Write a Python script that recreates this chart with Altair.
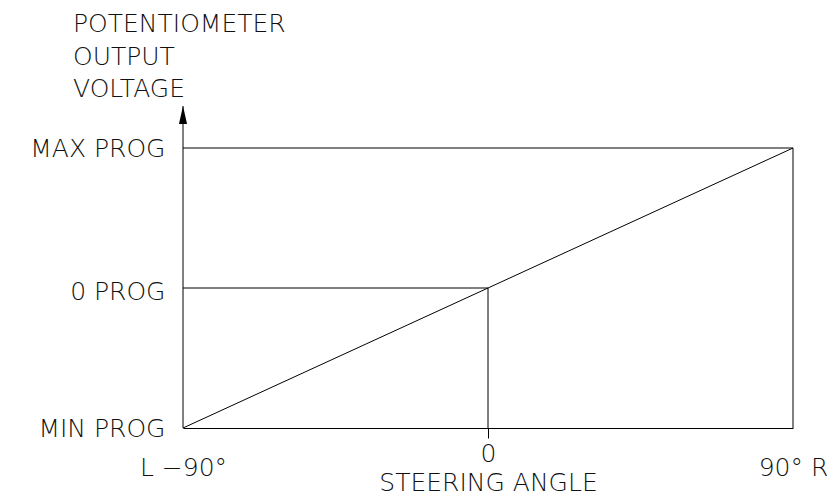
import altair as alt
import pandas as pd

# ---- data ----
angles = [-90, 0, 90]
angle_labels = ["L \u221290\u00b0", "0", "90\u00b0 R"]
levels = [0.0, 0.5, 1.0]
level_labels = ["MIN PROG", "0 PROG", "MAX PROG"]
curve_angle = [-90, 0, 90]
curve_output = [0.0, 0.5, 1.0]
axis_top = 1.15
y_title = ["POTENTIOMETER", "OUTPUT", "VOLTAGE"]
x_title = "STEERING ANGLE"

# guide segments: (x, x2, y, y2)
seg_x = [-90, 90, -90, 0, -90]
seg_x2 = [90, 90, 0, 0, -90]
seg_y = [1.0, 0.0, 0.5, 0.0, 0.0]
seg_y2 = [1.0, 1.0, 0.5, 0.5, axis_top]

FONT = "DejaVu Sans"
FW = 200
FS = 25
INK = "#111111"

segs = pd.DataFrame({"x": seg_x, "x2": seg_x2, "y": seg_y, "y2": seg_y2})
curve = pd.DataFrame({"angle": curve_angle, "out": curve_output})
arrow = pd.DataFrame({"x": [angles[0]], "y": [axis_top]})


def label_expr(vals, labs):
    expr = "''"
    for v, l in zip(vals, labs):
        expr = f"datum.value == {v} ? '{l}' : ({expr})"
    return expr


xscale = alt.Scale(domain=[angles[0], angles[-1]], nice=False, zero=False)
yscale = alt.Scale(domain=[levels[0], levels[-1]], nice=False, zero=False)

xaxis = alt.Axis(
    values=angles,
    labelExpr=label_expr(angles, angle_labels),
    grid=False,
    domain=True,
    domainColor="black",
    domainWidth=1,
    ticks=True,
    tickSize=10,
    tickWidth=1,
    tickColor={"condition": {"test": "datum.value == 0", "value": "black"}, "value": "transparent"},
    labelFlush=False,
    labelOverlap=False,
    labelBound=False,
    labelAngle=0,
    labelPadding={"condition": {"test": "datum.value == 0", "value": 3}, "value": 17},
    labelFont=FONT,
    labelFontWeight=FW,
    labelFontSize=FS,
    labelColor=INK,
    title=x_title,
    titleFont=FONT,
    titleFontWeight=FW,
    titleFontSize=FS,
    titleColor=INK,
    titlePadding=-10,
)
yaxis = alt.Axis(
    values=levels,
    labelExpr=label_expr(levels, level_labels),
    grid=False,
    domain=False,
    ticks=False,
    labelFlush=False,
    labelOverlap=False,
    labelBound=False,
    labelPadding=18,
    labelOffset={"condition": {"test": "datum.value == 0.5", "value": 3}, "value": 0},
    labelFont=FONT,
    labelFontWeight=FW,
    labelFontSize=FS,
    labelColor=INK,
    title=None,
)

rules = alt.Chart(segs).mark_rule(color="black", strokeWidth=1).encode(
    x=alt.X("x:Q", scale=xscale, axis=xaxis),
    x2="x2:Q",
    y=alt.Y("y:Q", scale=yscale, axis=yaxis),
    y2="y2:Q",
)

line = alt.Chart(curve).mark_line(color="black", strokeWidth=1).encode(
    x=alt.X("angle:Q", scale=xscale),
    y=alt.Y("out:Q", scale=yscale),
)

head = alt.Chart(arrow).mark_point(
    shape="M0,-1L0.45,1L-0.45,1Z", filled=True, color="black", size=324, opacity=1, yOffset=9
).encode(x=alt.X("x:Q", scale=xscale), y=alt.Y("y:Q", scale=yscale))

ytitle = alt.Chart(pd.DataFrame({"a": [0]})).mark_text(
    align="left", baseline="alphabetic", font=FONT, fontWeight=FW, fontSize=FS,
    color=INK, lineHeight=32.5,
).encode(x=alt.value(-110), y=alt.value(-116), text=alt.value(y_title))

chart = (
    alt.layer(rules, line, head, ytitle)
    .properties(
        width=610,
        height=280,
        autosize=alt.AutoSizeParams(type="none"),
        padding={"left": 175, "top": 140, "right": 34, "bottom": 74},
        background="white",
    )
    .configure_view(stroke=None)
)

chart.save("out.html", embed_options={"renderer": "svg", "actions": False})
